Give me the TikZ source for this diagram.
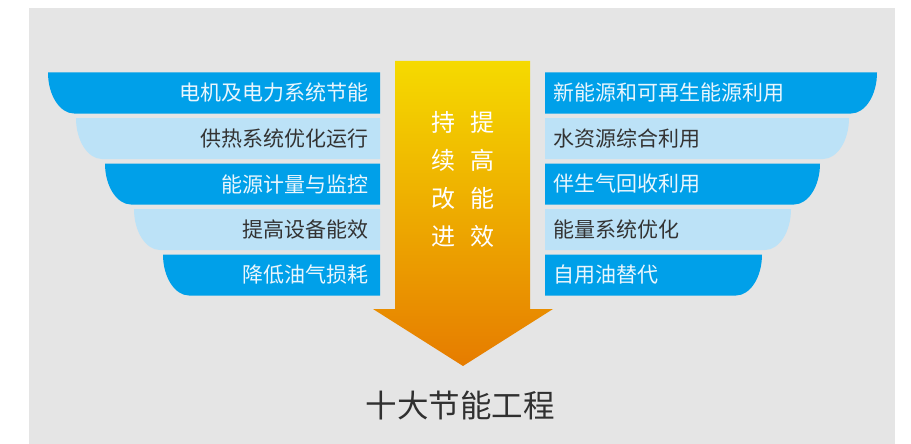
\documentclass[tikz,border=0pt]{standalone}
\usepackage{fontspec}
\setmainfont{Noto Sans CJK SC}
\newfontfamily\cjk{Noto Sans CJK SC}
\definecolor{panelgray}{HTML}{E5E5E5}
\definecolor{darkblue}{HTML}{00A0E9}
\definecolor{lightblue}{HTML}{BCE2F7}
\definecolor{arrowtop}{HTML}{F5DA00}
\definecolor{arrowbot}{HTML}{E67C00}
\definecolor{darktext}{HTML}{333333}
\definecolor{lighttext}{HTML}{EAF6FD}
\tikzset{
  barlabel/.style={font=\cjk\fontsize{21}{25}\selectfont, inner sep=0pt},
  onDark/.style={text=lighttext},
  onLight/.style={text=darktext},
  arrowtext/.style={font=\cjk\fontsize{24}{28}\selectfont, text=white, inner sep=0pt},
}
\newcommand{\leftbar}[3]{% x0, ytop, color
  \fill[#3] (380,#2) -- (#1,#2) .. controls (#1,#2+23) and ({#1+12},#2+41) .. ({#1+26},#2+41) -- (380,#2+41) -- cycle;}
\newcommand{\rightbar}[3]{% x0 (top right), ytop, color
  \fill[#3] (545,#2) -- (#1,#2) .. controls (#1,#2+23) and ({#1-12},#2+41) .. ({#1-26},#2+41) -- (545,#2+41) -- cycle;}
\begin{document}
\begin{tikzpicture}[x=1pt,y=-1pt]
\useasboundingbox (0,0) rectangle (911,444);
\fill[white] (0,0) rectangle (911,444);
\fill[panelgray] (29,8) rectangle (895,444);
% left bars
\leftbar{48}{72.5}{darkblue}
\leftbar{76}{118}{lightblue}
\leftbar{105}{163.5}{darkblue}
\leftbar{134}{209}{lightblue}
\leftbar{163}{254.5}{darkblue}
% right bars
\rightbar{877}{72.5}{darkblue}
\rightbar{849}{118}{lightblue}
\rightbar{820}{163.5}{darkblue}
\rightbar{791}{209}{lightblue}
\rightbar{762}{254.5}{darkblue}
% arrow
\shade[top color=arrowtop, bottom color=arrowbot]
  (395,61) -- (530,61) -- (530,309) -- (553,309) -- (463,366) -- (373,309) -- (395,309) -- cycle;
% left labels
\node[barlabel,onDark,anchor=east] (l1) at (369,93) {电机及电力系统节能};
\node[barlabel,onLight,anchor=east] (l2) at (369,138.5) {供热系统优化运行};
\node[barlabel,onDark,anchor=east] (l3) at (369,184) {能源计量与监控};
\node[barlabel,onLight,anchor=east] (l4) at (369,229.5) {提高设备能效};
\node[barlabel,onDark,anchor=east] (l5) at (369,275) {降低油气损耗};
% right labels
\node[barlabel,onDark,anchor=west] (r1) at (553,93) {新能源和可再生能源利用};
\node[barlabel,onLight,anchor=west] (r2) at (553,138.5) {水资源综合利用};
\node[barlabel,onDark,anchor=west] (r3) at (553,184) {伴生气回收利用};
\node[barlabel,onLight,anchor=west] (r4) at (553,229.5) {能量系统优化};
\node[barlabel,onDark,anchor=west] (r5) at (553,275) {自用油替代};
% arrow text
\node[arrowtext] (a1) at (443,122) {持};
\node[arrowtext] (a2) at (443,160) {续};
\node[arrowtext] (a3) at (443,198) {改};
\node[arrowtext] (a4) at (443,236) {进};
\node[arrowtext] (b1) at (482,122) {提};
\node[arrowtext] (b2) at (482,160) {高};
\node[arrowtext] (b3) at (482,198) {能};
\node[arrowtext] (b4) at (482,236) {效};
% title
\node[font=\cjk\fontsize{31.5}{35}\selectfont, text=darktext!95!black, inner sep=0pt] (title) at (460,405) {十大节能工程};
\end{tikzpicture}
\end{document}
